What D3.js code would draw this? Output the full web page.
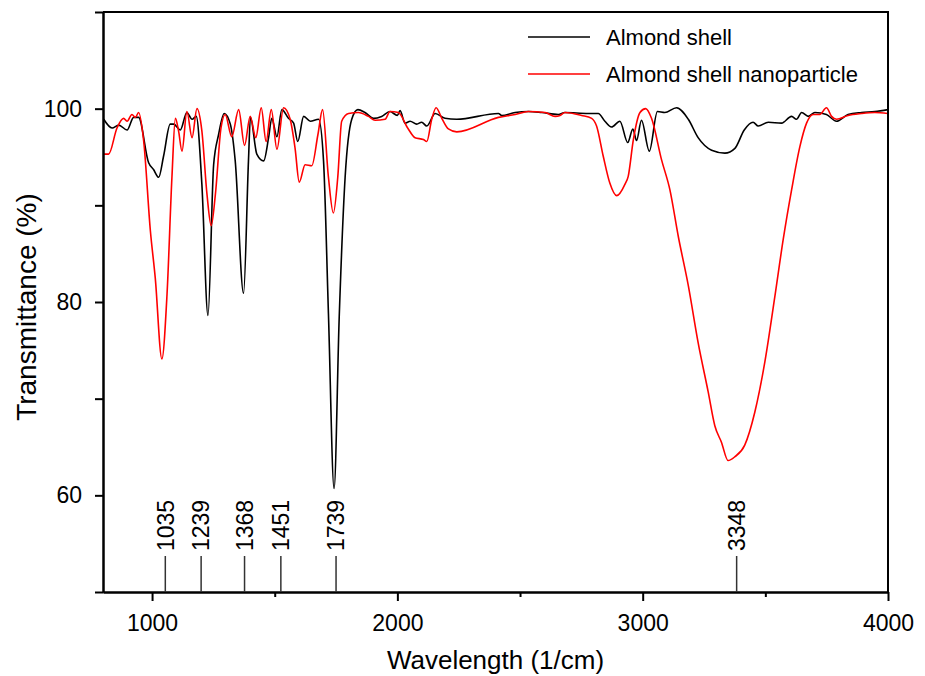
<!DOCTYPE html>
<html lang="en">
<head>
  <meta charset="UTF-8">
  <title>FTIR almond shell</title>
  <style>
    body { margin: 0; background: #fff; }
    svg { display: block; }
    text { font-family: "Liberation Sans", Arial, sans-serif; fill: #000; }
  </style>
</head>
<body>
  <svg width="925" height="676"></svg>

  <script src="https://d3js.org/d3.v7.min.js"></script>
  <script>
    // wavenumber (1/cm)
    const shellX = [803, 837, 864, 898, 925, 945, 986, 1006, 1027, 1047, 1074, 1088, 1115, 1142, 1163, 1180, 1203, 1228, 1251, 1271, 1294, 1319, 1339, 1373, 1393, 1401, 1427, 1455, 1475, 1488, 1509, 1529, 1556, 1577, 1594, 1618, 1645, 1679, 1699, 1719, 1742, 1763, 1787, 1814, 1839, 1868, 1903, 1936, 1970, 2000, 2011, 2031, 2052, 2079, 2099, 2120, 2154, 2194, 2242, 2412, 2425, 2480, 2534, 2588, 2656, 2683, 2778, 2819, 2846, 2873, 2907, 2939, 2960, 2975, 2995, 3027, 3060, 3090, 3138, 3186, 3226, 3281, 3335, 3376, 3414, 3450, 3471, 3512, 3566, 3607, 3627, 3648, 3675, 3702, 3749, 3790, 3837, 3892, 3946, 4000];
    const shellT = [98.9, 98.0, 98.3, 97.8, 99.1, 99.1, 94.4, 93.7, 92.9, 95.1, 98.4, 98.4, 97.8, 99.6, 98.9, 99.2, 92.2, 78.6, 94.2, 97.3, 99.5, 98.4, 94.6, 80.9, 94.6, 99.1, 95.3, 94.6, 97.0, 99.0, 97.1, 99.9, 99.0, 98.5, 96.6, 99.2, 98.7, 98.9, 94.6, 78.8, 60.7, 78.5, 92.9, 98.9, 99.9, 99.6, 99.0, 99.2, 99.7, 99.3, 99.8, 98.5, 98.7, 98.4, 98.6, 98.2, 99.5, 99.0, 98.9, 99.5, 99.3, 99.6, 99.7, 99.6, 99.4, 99.6, 99.5, 99.5, 98.7, 98.1, 98.7, 96.5, 97.9, 96.7, 98.8, 95.6, 99.7, 99.6, 100.1, 98.9, 97.0, 95.7, 95.4, 95.9, 97.8, 98.6, 98.2, 98.6, 98.5, 99.2, 98.9, 99.6, 99.2, 99.6, 99.4, 98.7, 99.4, 99.6, 99.7, 99.9];

    const nanoX = [803, 823, 857, 884, 898, 918, 932, 945, 966, 993, 1013, 1040, 1061, 1081, 1095, 1108, 1122, 1142, 1163, 1183, 1203, 1224, 1241, 1258, 1281, 1298, 1325, 1353, 1377, 1400, 1423, 1445, 1465, 1486, 1509, 1536, 1563, 1583, 1600, 1624, 1651, 1676, 1695, 1719, 1739, 1757, 1773, 1801, 1841, 1882, 1909, 1950, 1970, 2004, 2042, 2072, 2106, 2120, 2140, 2158, 2181, 2208, 2242, 2412, 2480, 2534, 2602, 2643, 2663, 2683, 2751, 2792, 2812, 2839, 2866, 2894, 2928, 2941, 2962, 2989, 3012, 3036, 3077, 3111, 3145, 3186, 3226, 3267, 3294, 3321, 3348, 3376, 3416, 3457, 3498, 3539, 3573, 3607, 3641, 3668, 3695, 3722, 3749, 3770, 3790, 3837, 3892, 3946, 4000];
    const nanoT = [95.3, 95.3, 98.0, 99.0, 98.7, 99.4, 99.1, 99.6, 96.6, 87.4, 82.5, 74.1, 80.8, 92.9, 99.0, 97.7, 95.6, 99.7, 97.0, 100.0, 97.7, 91.1, 87.9, 91.1, 98.0, 99.4, 97.1, 99.9, 96.2, 99.2, 97.0, 100.1, 96.6, 99.9, 95.8, 100.1, 98.9, 95.9, 92.4, 94.2, 94.1, 97.3, 99.9, 92.9, 89.2, 92.9, 98.7, 99.5, 99.6, 99.2, 98.8, 98.9, 99.7, 99.6, 98.0, 97.0, 96.8, 96.6, 98.9, 100.1, 99.0, 97.9, 97.6, 99.1, 99.4, 99.7, 99.6, 99.2, 99.3, 99.6, 99.3, 99.0, 98.2, 95.1, 92.3, 91.0, 92.2, 93.0, 96.8, 99.6, 100.0, 99.0, 94.7, 91.6, 86.8, 81.7, 75.8, 70.7, 67.2, 65.5, 63.6, 64.0, 65.2, 68.6, 73.8, 80.6, 86.5, 91.6, 96.1, 98.5, 99.4, 99.4, 100.1, 99.2, 98.9, 99.3, 99.5, 99.6, 99.5];

    // peak markers along the bottom axis
    const peakLabels = ["1035", "1239", "1368", "1451", "1739", "3348"];
    const peakPos = [1054, 1200, 1377, 1525, 1750, 3383];

    const seriesNames = ["Almond shell", "Almond shell nanoparticle"];
    const seriesColors = ["#000000", "#ff0000"];

    const xMajor = [1000, 2000, 3000, 4000];
    const xMinor = [1500, 2500, 3500];
    const yMajor = [60, 80, 100];
    const yMinor = [50, 70, 90, 110];

    const svg = d3.select("svg");
    const m = { left: 103, right: 888, top: 12, bottom: 592 };

    const x = d3.scaleLinear().domain([800, 4000]).range([m.left, m.right]);
    const y = d3.scaleLinear().domain([50, 110]).range([m.bottom, m.top]);

    svg.append("clipPath").attr("id", "plot")
      .append("rect")
      .attr("x", m.left).attr("y", m.top)
      .attr("width", m.right - m.left).attr("height", m.bottom - m.top);

    const line = d3.line()
      .x(d => x(d[0]))
      .y(d => y(d[1]))
      .curve(d3.curveMonotoneX);

    const series = [d3.zip(shellX, shellT), d3.zip(nanoX, nanoT)];

    svg.append("g").attr("clip-path", "url(#plot)")
      .selectAll("path")
      .data(series)
      .join("path")
      .attr("fill", "none")
      .attr("stroke", (d, i) => seriesColors[i])
      .attr("stroke-width", 1.6)
      .attr("stroke-linejoin", "round")
      .attr("d", line);

    // frame: top and right edges
    svg.append("path")
      .attr("fill", "none")
      .attr("stroke", "#000")
      .attr("stroke-width", 2)
      .attr("d", `M${m.left},${m.top}H${m.right}V${m.bottom}`);

    const fontFam = "'Liberation Sans', Arial, sans-serif";

    // x axis
    const gx = svg.append("g").attr("transform", `translate(0,${m.bottom})`);
    gx.call(d3.axisBottom(x).tickValues(xMajor).tickFormat(d3.format("d")).tickSize(9).tickPadding(14).tickSizeOuter(0));
    gx.append("g").call(d3.axisBottom(x).tickValues(xMinor).tickSize(5).tickFormat("").tickSizeOuter(0));
    gx.selectAll(".domain").attr("stroke-width", 2);
    gx.selectAll(".tick line").attr("stroke-width", 2);
    gx.selectAll(".tick text").style("font-size", "23px").style("font-family", fontFam);

    // y axis
    const gy = svg.append("g").attr("transform", `translate(${m.left},0)`);
    gy.call(d3.axisLeft(y).tickValues(yMajor).tickSize(8).tickPadding(13).tickSizeOuter(0));
    gy.append("g").call(d3.axisLeft(y).tickValues(yMinor).tickSize(8).tickFormat("").tickSizeOuter(0));
    gy.selectAll(".domain").attr("stroke-width", 2);
    gy.selectAll(".tick line").attr("stroke-width", 2);
    gy.selectAll(".tick text").style("font-size", "23px").style("font-family", fontFam);

    // peak markers
    const peaks = svg.append("g")
      .selectAll("g")
      .data(d3.zip(peakPos, peakLabels))
      .join("g")
      .attr("transform", d => `translate(${x(d[0])},0)`);

    peaks.append("line")
      .attr("y1", m.bottom).attr("y2", 556)
      .attr("stroke", "#333").attr("stroke-width", 1.5);

    peaks.append("text")
      .attr("transform", "translate(0,551) rotate(-90)")
      .attr("dy", "0.36em")
      .attr("font-size", 23)
      .text(d => d[1]);

    // axis titles
    svg.append("text")
      .attr("x", (m.left + m.right) / 2)
      .attr("y", 669)
      .attr("text-anchor", "middle")
      .attr("font-size", 26)
      .text("Wavelength (1/cm)");

    svg.append("text")
      .attr("transform", `translate(36,${(m.top + m.bottom) / 2 + 5}) rotate(-90)`)
      .attr("text-anchor", "middle")
      .attr("font-size", 28)
      .text("Transmittance (%)");

    // legend
    const legend = svg.append("g")
      .selectAll("g")
      .data(seriesNames)
      .join("g")
      .attr("transform", (d, i) => `translate(528,${37 + i * 37})`);

    legend.append("line")
      .attr("x1", 0).attr("x2", 62)
      .attr("stroke", (d, i) => seriesColors[i])
      .attr("stroke-width", 1.6);

    legend.append("text")
      .attr("x", 78)
      .attr("dy", "0.36em")
      .attr("font-size", 22)
      .text(d => d);
  </script>
</body>
</html>
